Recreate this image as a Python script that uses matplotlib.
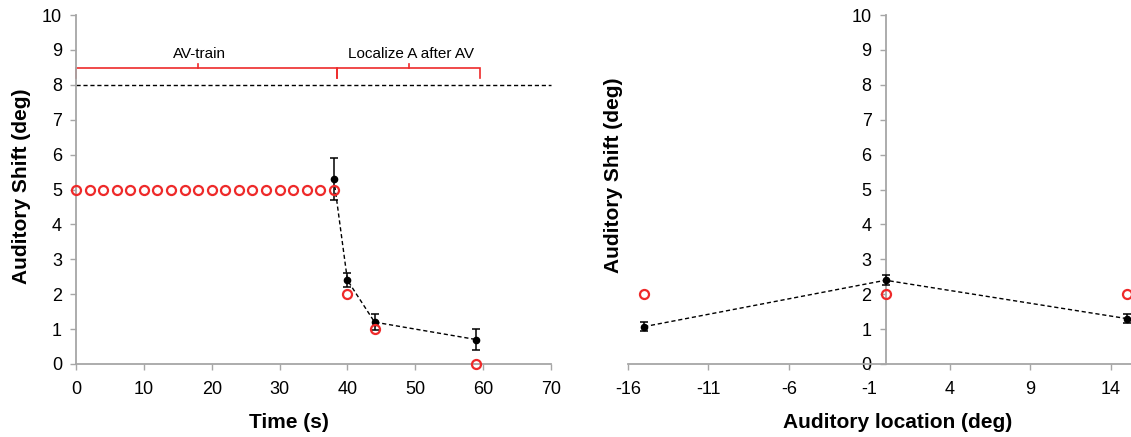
import matplotlib
matplotlib.use("Agg")
import matplotlib.pyplot as plt

plt.rcParams['font.family'] = ['Liberation Sans', 'DejaVu Sans']
plt.rcParams['axes.unicode_minus'] = False

# ---------------- data ----------------
# Left panel: time course
model_time = [0, 2, 4, 6, 8, 10, 12, 14, 16, 18, 20, 22, 24, 26, 28, 30, 32, 34, 36, 38, 40, 44, 59]
model_shift = [5] * 20 + [2, 1, 0]
data_time = [38, 40, 44, 59]
data_shift = [5.3, 2.4, 1.2, 0.7]
data_err = [0.6, 0.2, 0.22, 0.3]
left_xticks = [0, 10, 20, 30, 40, 50, 60, 70]
yticks = [0, 1, 2, 3, 4, 5, 6, 7, 8, 9, 10]
reference_level = 8
phase_labels = ["AV-train", "Localize A after AV"]
phase_bounds = [0, 38.5, 59.5]
phase_marks = [18, 49]

# Right panel: location
loc_model_x = [-15, 0, 15]
loc_model_y = [2, 2, 2]
loc_data_x = [-15, 0, 15]
loc_data_y = [1.07, 2.4, 1.3]
loc_data_err = [0.12, 0.14, 0.13]
right_xticks = [-16, -11, -6, -1, 4, 9, 14]

# ---------------- style ----------------
W, H = 1131, 437
fig = plt.figure(figsize=(W / 100, H / 100), dpi=100)
axis_gray = '#a6a6a6'
red = '#ee2a2a'
tick_fs = 13
label_fs = 15

def style_axes(ax):
    for s in ['top', 'right']:
        ax.spines[s].set_visible(False)
    for s in ['left', 'bottom']:
        ax.spines[s].set_color(axis_gray)
        ax.spines[s].set_linewidth(1.3)
    ax.tick_params(axis='both', colors=axis_gray, labelcolor='black',
                   labelsize=tick_fs, length=4, width=1.0, direction='out')
    ax.tick_params(axis='x', pad=8)
    ax.tick_params(axis='y', pad=6)

# ---- left panel ----
ax1 = fig.add_axes([76 / W, 73 / H, 475 / W, 349 / H])
style_axes(ax1)
ax1.set_xlim(0, 70)
ax1.set_ylim(0, 10)
ax1.set_xticks(left_xticks)
ax1.set_yticks(yticks)

ax1.plot([0, 70], [reference_level, reference_level], color='black', lw=1.0,
         ls=(0, (3, 2)), clip_on=False)

ax1.plot(data_time, data_shift, color='black', lw=1.0, ls=(0, (3, 2)), zorder=3)
ax1.errorbar(data_time, data_shift, yerr=data_err, fmt='o', color='black',
             ms=4.5, elinewidth=1.1, capsize=3, capthick=1.1, zorder=4,
             clip_on=False)
ax1.plot(model_time, model_shift, 'o', mfc='none', mec=red, ms=6.5, mew=1.6,
         zorder=5, clip_on=False)

# phase brackets
yb, ylow, yhigh = 8.47, 8.2, 8.6
for i in range(2):
    x0, x1 = phase_bounds[i], phase_bounds[i + 1]
    ax1.plot([x0, x0, x1, x1], [ylow, yb, yb, ylow], color=red, lw=1.2,
             clip_on=False, solid_joinstyle='miter')
    ax1.plot([phase_marks[i], phase_marks[i]], [yb, yhigh], color=red, lw=1.2)
ax1.text(18.2, 8.88, phase_labels[0], ha='center', va='center', fontsize=11)
ax1.text(49.3, 8.88, phase_labels[1], ha='center', va='center', fontsize=11)

ax1.set_xlabel('Time (s)', fontsize=label_fs, fontweight='bold')
ax1.set_ylabel('Auditory Shift (deg)', fontsize=label_fs, fontweight='bold')
ax1.xaxis.set_label_coords(0.448, -0.14)
ax1.yaxis.set_label_coords(-0.095, 0.51)

# ---- right panel ----
ax2 = fig.add_axes([628 / W, 73 / H, 515 / W, 349 / H])
style_axes(ax2)
ax2.set_xlim(-16, 16)
ax2.set_ylim(0, 10)
ax2.spines['left'].set_position(('data', 0))
ax2.set_xticks(right_xticks)
ax2.set_yticks(yticks)

ax2.plot(loc_data_x, loc_data_y, color='black', lw=1.0, ls=(0, (3, 2)), zorder=3)
ax2.errorbar(loc_data_x, loc_data_y, yerr=loc_data_err, fmt='o', color='black',
             ms=4.5, elinewidth=1.1, capsize=3, capthick=1.1, zorder=4,
             clip_on=False)
ax2.plot(loc_model_x, loc_model_y, 'o', mfc='none', mec=red, ms=6.5, mew=1.6,
         zorder=5, clip_on=False)

ax2.set_xlabel('Auditory location (deg)', fontsize=label_fs, fontweight='bold')
ax2.set_ylabel('Auditory Shift (deg)', fontsize=label_fs, fontweight='bold')
ax2.xaxis.set_label_coords(0.524, -0.14)
ax2.yaxis.set_label_coords(-0.01, 0.54)

fig.savefig('out.png', dpi=100)
